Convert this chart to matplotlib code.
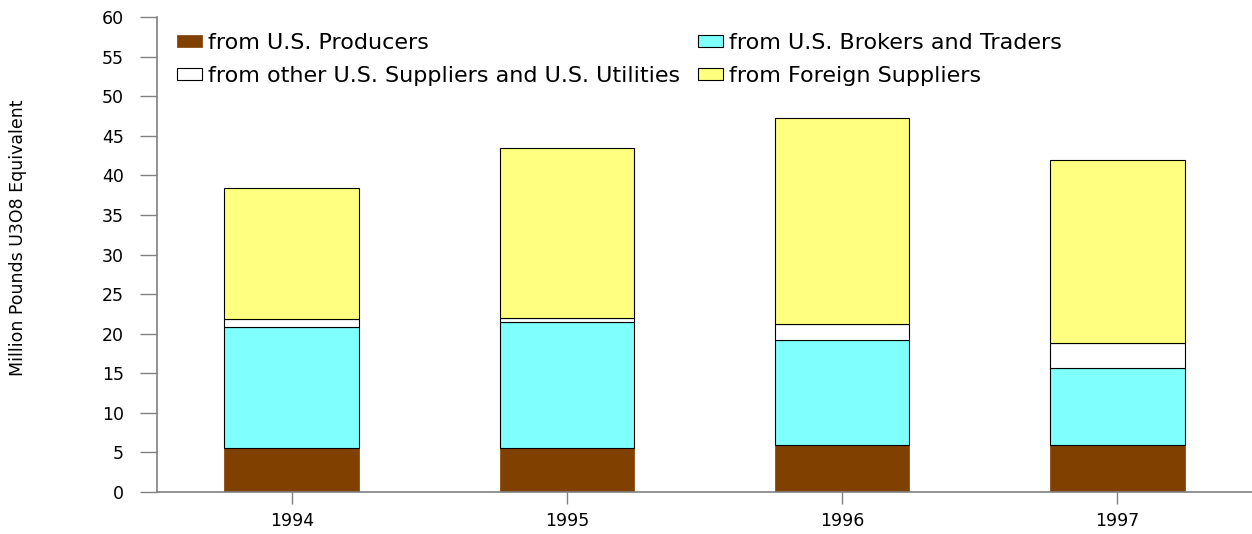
import matplotlib
matplotlib.use('Agg')
import numpy as np
import matplotlib.pyplot as plt

plt.rcParams['font.family'] = ['DejaVu Sans']

years = ['1994', '1995', '1996', '1997']
producers = [5.6, 5.55, 5.95, 5.95]
brokers = [15.2, 15.95, 13.25, 9.75]
other = [1.0, 0.5, 2.0, 3.1]
foreign = [16.6, 21.5, 26.05, 23.1]

labels = ['from U.S. Producers', 'from U.S. Brokers and Traders',
          'from other U.S. Suppliers and U.S. Utilities', 'from Foreign Suppliers']
colors = ['#804000', '#80FFFF', '#FFFFFF', '#FFFF80']

fig = plt.figure(figsize=(12.52, 5.34), dpi=100)
ax = fig.add_axes([157/1252, 1-492/534, 1-157/1252, (492-17)/534])

x = np.arange(len(years))
w = 0.49
bottom = np.zeros(len(years))
handles = []
for vals, lab, col in zip([producers, brokers, other, foreign], labels, colors):
    if col == '#804000':
        b = ax.bar(x, vals, w, bottom=bottom, color=col, edgecolor=col, linewidth=0.5, label=lab)
    else:
        b = ax.bar(x, vals, w, bottom=bottom, color=col, edgecolor='black', linewidth=0.8, label=lab)
    handles.append(b)
    bottom += np.array(vals)

ax.set_xlim(-0.49, 3.49)
ax.set_ylim(0, 60)
ax.set_yticks(np.arange(0, 61, 5))
ax.set_xticks(x)
ax.set_xticklabels(years)
ax.tick_params(axis='both', labelsize=12.5, color='#808080', width=1)
ax.tick_params(axis='y', length=12, pad=12)
ax.tick_params(axis='x', length=8.5, pad=6)
for s in ['top', 'right']:
    ax.spines[s].set_visible(False)
for s in ['left', 'bottom']:
    ax.spines[s].set_color('#808080')
    ax.spines[s].set_linewidth(1.2)

fig.text(18/1252, 1-238/534, 'Million Pounds U3O8 Equivalent', rotation=90,
         va='center', ha='center', fontsize=12.5)

order = [0, 2, 1, 3]
leg = ax.legend([handles[i] for i in order], [labels[i] for i in order], ncol=2,
                loc='upper left', bbox_to_anchor=(177/1252, 1-33/534),
                bbox_transform=fig.transFigure, frameon=False, fontsize=16,
                handlelength=1.13, handleheight=0.5, handletextpad=0.27,
                columnspacing=0.8, labelspacing=0.58, borderpad=0, borderaxespad=0)

fig.savefig('out.png', dpi=100)
